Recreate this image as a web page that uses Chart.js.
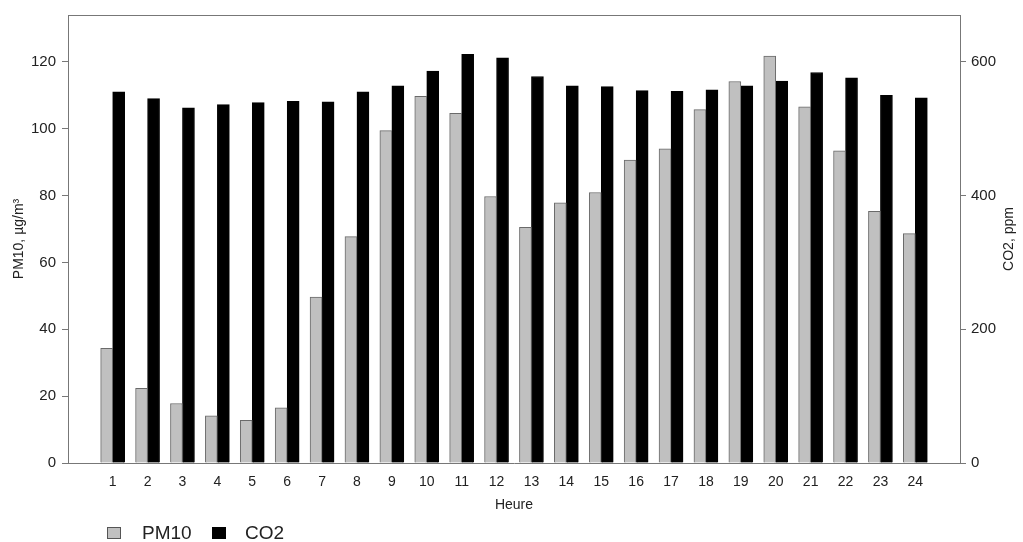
<!DOCTYPE html>
<html>
<head>
<meta charset="utf-8">
<title>PM10 et CO2 par heure</title>
<script src="https://cdn.jsdelivr.net/npm/chart.js@4.4.1/dist/chart.umd.min.js"></script>
<style>
body { margin: 0; background: #fff; }
#wrap { position: relative; width: 1023px; height: 542px; }
#legenda { font-family: "Liberation Sans", Arial, sans-serif; font-size: 19px; color: #222; }
.box { position: absolute; width: 12px; height: 10px; border: 1px solid #555; }
.txt { position: absolute; line-height: 20px; }
</style>
</head>
<body>
<div id="wrap">
    <canvas id="myChart" width="1023" height="542"></canvas>
    <div id="legenda">
        <div class="box" style="left:107px; top:527px; background:#c0c0c0"></div>
        <div class="txt" style="left:142px; top:523px">PM10</div>
        <div class="box" style="left:212px; top:527px; background:#000; border-color:#000"></div>
        <div class="txt" style="left:245px; top:523px">CO2</div>
    </div>
</div>
<script>
// valeurs
var heures = [1, 2, 3, 4, 5, 6, 7, 8, 9, 10, 11, 12, 13, 14, 15, 16, 17, 18, 19, 20, 21, 22, 23, 24]
var pm10 = [34.3, 22.3, 17.8, 14.1, 12.8, 16.5, 49.6, 67.7, 99.4, 109.7, 104.6, 79.7,
            70.5, 77.8, 80.9, 90.6, 94.0, 105.7, 114.1, 121.7, 106.5, 93.4, 75.3, 68.6]
var co2 = [555, 545, 531, 536, 539, 541, 540, 555, 564, 586, 611, 606,
           578, 564, 563, 557, 556, 558, 564, 571, 584, 576, 550, 546]
var ticksPm10 = [0, 20, 40, 60, 80, 100, 120]
var ticksCo2 = [0, 200, 400, 600]

var police = '"Liberation Sans", Arial, sans-serif'
var cinza = '#777'
var texto = '#222'

Chart.defaults.font.family = police
Chart.defaults.color = texto

// cadre du haut + titre de droite (lu de bas en haut)
const cadre = {
    id: 'cadre',
    afterDraw(chart) {
        const ctx = chart.ctx
        const a = chart.chartArea
        ctx.save()
        ctx.strokeStyle = cinza
        ctx.lineWidth = 1
        ctx.beginPath()
        ctx.moveTo(a.left, a.top + 0.5)
        ctx.lineTo(a.right, a.top + 0.5)
        ctx.stroke()
        ctx.translate(1009, (a.top + a.bottom) / 2)
        ctx.rotate(-Math.PI / 2)
        ctx.font = '14px ' + police
        ctx.fillStyle = texto
        ctx.textAlign = 'center'
        ctx.textBaseline = 'middle'
        ctx.fillText('CO2, ppm', 0, 0)
        ctx.restore()
    }
}

let myChart = document.getElementById('myChart').getContext('2d');
let grafico = new Chart(myChart, {
    type: 'bar',
    data: {
        datasets: [{
            label: 'PM10',
            data: heures.map((h, i) => ({ x: h, y: pm10[i] })),
            backgroundColor: '#c0c0c0',
            borderColor: '#6a6a6a',
            borderWidth: 1,
            yAxisID: 'y'
        }, {
            label: 'CO2',
            data: heures.map((h, i) => ({ x: h, y: co2[i] })),
            backgroundColor: '#000',
            borderColor: '#000',
            borderWidth: 1,
            yAxisID: 'y1'
        }]
    },
    options: {
        responsive: false,
        animation: false,
        barThickness: 12,
        layout: { padding: { top: 12, left: 0, right: 0, bottom: 0 } },
        plugins: {
            legend: { display: false },
            tooltip: { enabled: false }
        },
        scales: {
            x: {
                type: 'linear',
                min: -0.28,
                max: 25.28,
                offset: false,
                afterBuildTicks: s => { s.ticks = heures.map(h => ({ value: h })) },
                afterFit: s => { s.height = 79 },
                grid: { display: false, drawTicks: false },
                border: { color: cinza, width: 1 },
                ticks: {
                    autoSkip: false, maxRotation: 0, padding: 11,
                    font: { size: 14 },
                    callback: v => String(v)
                },
                title: { display: true, text: 'Heure', font: { size: 14 }, padding: { top: 0, bottom: 28 } }
            },
            y: {
                position: 'left',
                min: 0,
                max: 134,
                afterBuildTicks: s => { s.ticks = ticksPm10.map(v => ({ value: v })) },
                afterFit: s => { s.width = 68 },
                grid: { drawOnChartArea: false, tickLength: 6, color: cinza },
                border: { color: cinza, width: 1 },
                ticks: { padding: 6, font: { size: 15 } },
                title: { display: true, text: 'PM10, µg/m³', font: { size: 14 }, padding: { top: 11, bottom: 0 } }
            },
            y1: {
                position: 'right',
                min: 0,
                max: 670,
                afterBuildTicks: s => { s.ticks = ticksCo2.map(v => ({ value: v })) },
                afterFit: s => { s.width = 63 },
                grid: { drawOnChartArea: false, tickLength: 6, color: cinza },
                border: { color: cinza, width: 1 },
                ticks: { padding: 5, font: { size: 15 } }
            }
        }
    },
    plugins: [cadre]
});
</script>
</body>
</html>
